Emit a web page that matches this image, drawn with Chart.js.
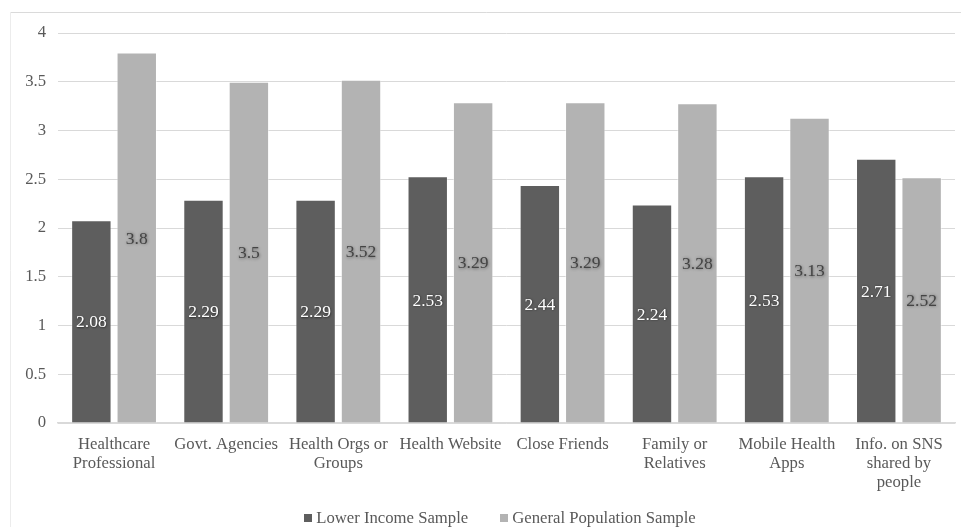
<!DOCTYPE html>
<html>
<head>
<meta charset="utf-8">
<script src="https://cdn.jsdelivr.net/npm/chart.js@4/dist/chart.umd.min.js"></script>
<style>
  html, body { margin: 0; padding: 0; background: #ffffff; }
  #wrap { width: 961px; height: 527px; position: relative; }
</style>
</head>
<body>
<div id="wrap"><canvas id="c" width="961" height="527"></canvas></div>
<script>
// Information sources (x axis categories, multi-line labels)
const categories = [
  ['Healthcare', 'Professional'],
  ['Govt. Agencies'],
  ['Health Orgs or', 'Groups'],
  ['Health Website'],
  ['Close Friends'],
  ['Family or', 'Relatives'],
  ['Mobile Health', 'Apps'],
  ['Info. on SNS', 'shared by', 'people']
];

// Mean trust scores per sample
const lowerIncome = [2.08, 2.29, 2.29, 2.53, 2.44, 2.24, 2.53, 2.71];
const generalPopulation = [3.8, 3.5, 3.52, 3.29, 3.29, 3.28, 3.13, 2.52];

const seriesNames = ['Lower Income Sample', 'General Population Sample'];

// Y axis ticks
const yTicks = [0, 0.5, 1, 1.5, 2, 2.5, 3, 3.5, 4];

const FONT = "'Liberation Serif', 'Times New Roman', serif";
const FSIZE = 16.7;
const LABEL_SIZE = 17.5;
const TEXT = '#595959';
const DARK = '#5e5e5e';
const LIGHT = '#b3b3b3';

// White page with a light frame
const framePlugin = {
  id: 'frame',
  beforeDraw(chart) {
    const ctx = chart.ctx;
    ctx.save();
    ctx.fillStyle = '#ffffff';
    ctx.fillRect(0, 0, chart.width, chart.height);
    ctx.strokeStyle = '#dadada';
    ctx.lineWidth = 1;
    ctx.beginPath();
    ctx.moveTo(chart.width + 2, 12.5);
    ctx.lineTo(10.5, 12.5);
    ctx.stroke();
    ctx.strokeStyle = '#ececec';
    ctx.beginPath();
    ctx.moveTo(10.5, 12.5);
    ctx.lineTo(10.5, chart.height + 2);
    ctx.stroke();
    ctx.restore();
  }
};

// Value labels centred inside each bar
const valueLabelPlugin = {
  id: 'valueLabels',
  afterDatasetsDraw(chart) {
    const ctx = chart.ctx;
    ctx.save();
    ctx.font = LABEL_SIZE + 'px ' + FONT;
    ctx.textAlign = 'center';
    ctx.textBaseline = 'middle';
    chart.data.datasets.forEach((ds, di) => {
      const meta = chart.getDatasetMeta(di);
      meta.data.forEach((bar, i) => {
        const v = ds.data[i];
        const cy = (bar.y + bar.base) / 2;
        if (di === 0) {
          ctx.shadowColor = 'rgba(0,0,0,0.55)';
          ctx.shadowBlur = 2;
          ctx.shadowOffsetX = 0.5;
          ctx.shadowOffsetY = 0.5;
          ctx.fillStyle = '#ffffff';
        } else {
          ctx.shadowColor = 'rgba(0,0,0,0.45)';
          ctx.shadowBlur = 3;
          ctx.shadowOffsetX = 0.5;
          ctx.shadowOffsetY = 0.5;
          ctx.fillStyle = '#444444';
        }
        ctx.fillText(String(v), bar.x, cy + 1.5);
      });
    });
    ctx.restore();
  }
};

// Legend row under the axis labels
const legendPlugin = {
  id: 'bottomLegend',
  afterDraw(chart) {
    const ctx = chart.ctx;
    ctx.save();
    ctx.font = FSIZE + 'px ' + FONT;
    ctx.textBaseline = 'middle';
    ctx.textAlign = 'left';
    const box = 8, gap = 4, spacing = 32;
    const items = chart.data.datasets.map(ds => ({
      label: ds.label, color: ds.backgroundColor, w: ctx.measureText(ds.label).width
    }));
    let total = 0;
    items.forEach((it, k) => { total += box + gap + it.w + (k ? spacing : 0); });
    let x = 500 - total / 2;
    const cy = 518;
    items.forEach((it, k) => {
      if (k) x += spacing;
      ctx.fillStyle = it.color;
      ctx.fillRect(Math.round(x), cy - 4, box, box);
      ctx.fillStyle = TEXT;
      ctx.fillText(it.label, x + box + gap, cy + 1);
      x += box + gap + it.w;
    });
    ctx.restore();
  }
};

new Chart(document.getElementById('c'), {
  type: 'bar',
  data: {
    labels: categories,
    datasets: [
      {
        label: seriesNames[0],
        data: lowerIncome,
        backgroundColor: DARK,
        borderColor: 'rgba(255,255,255,0.35)',
        borderWidth: 1,
        categoryPercentage: 0.81,
        barPercentage: 0.89
      },
      {
        label: seriesNames[1],
        data: generalPopulation,
        backgroundColor: LIGHT,
        borderColor: 'rgba(255,255,255,0.45)',
        borderWidth: 1,
        categoryPercentage: 0.81,
        barPercentage: 0.89
      }
    ]
  },
  options: {
    responsive: false,
    animation: false,
    devicePixelRatio: 1,
    layout: { padding: { top: 33, right: 6, left: 0, bottom: 0 } },
    plugins: {
      legend: { display: false },
      tooltip: { enabled: false }
    },
    scales: {
      x: {
        grid: { display: false, drawTicks: false },
        border: { display: true, color: '#d9d9d9', width: 1.5 },
        ticks: {
          color: TEXT,
          font: { family: FONT, size: FSIZE, lineHeight: 1.13 },
          padding: 12,
          maxRotation: 0,
          autoSkip: false
        },
        afterFit(scale) { scale.height = 104; }
      },
      y: {
        min: 0,
        max: 4,
        afterBuildTicks(scale) { scale.ticks = yTicks.map(v => ({ value: v })); },
        grid: { color: '#d9d9d9', lineWidth: 1, drawTicks: false },
        border: { display: false },
        ticks: {
          color: TEXT,
          font: { family: FONT, size: FSIZE },
          padding: 12,
          callback: v => String(v)
        },
        afterFit(scale) { scale.width = 58; }
      }
    }
  },
  plugins: [framePlugin, valueLabelPlugin, legendPlugin]
});
</script>
</body>
</html>
